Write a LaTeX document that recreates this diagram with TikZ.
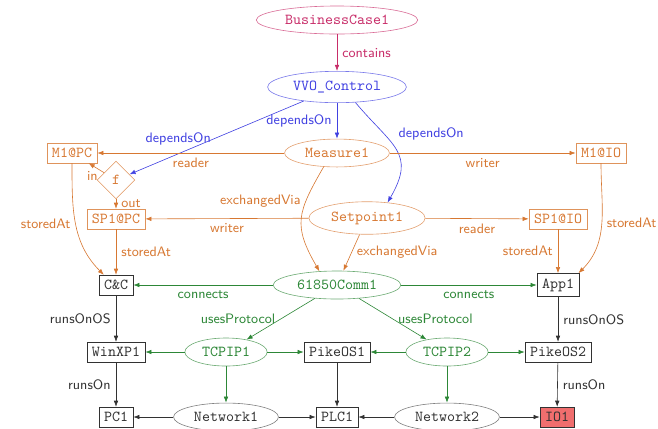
\documentclass[tikz,border=0pt]{standalone}
\usepackage{xcolor}
\usepackage{tikz}
\usetikzlibrary{shapes.geometric, arrows.meta}

\definecolor{bcase}{RGB}{200,45,105}
\definecolor{ctrl}{RGB}{65,65,225}
\definecolor{sig}{RGB}{215,120,50}
\definecolor{comm}{RGB}{45,135,55}
\definecolor{sysc}{RGB}{50,50,50}
\definecolor{iored}{RGB}{240,110,110}

\tikzset{
  ent/.style={ellipse, draw, font=\ttfamily},
  box/.style={rectangle, draw, font=\ttfamily},
  lbl/.style={font=\sffamily\small},
  link/.style={-{Latex[length=4pt,width=3pt]}},
}

\begin{document}
\begin{tikzpicture}[x=0.6562pt, y=-0.6562pt]
  \useasboundingbox (0,0) rectangle (658,428);
  % entities
  \node[ent, draw=bcase!70, text=bcase] (bc) at (337,20) {BusinessCase1};
  \node[ent, draw=ctrl!70, text=ctrl] (vvo) at (337,87) {VVO\_Control};
  \node[ent, draw=sig!70, text=sig] (meas) at (337,153) {Measure1};
  \node[ent, draw=sig!70, text=sig] (sp) at (367,218) {Setpoint1};
  \node[ent, draw=comm!70, text=comm] (comm) at (337,285) {61850Comm1};
  \node[box, draw=sig!80, text=sig] (m1pc) at (72,153) {M1@PC};
  \node[box, draw=sig!80, text=sig] (m1io) at (601,153) {M1@IO};
  \node[diamond, draw=sig!80, text=sig, font=\ttfamily] (f) at (116,180) {f};
  \node[box, draw=sig!80, text=sig] (sp1pc) at (116,219) {SP1@PC};
  \node[box, draw=sig!80, text=sig] (sp1io) at (558,219) {SP1@IO};
  \node[box, draw=sysc, text=sysc] (cc) at (116,285) {C\&C};
  \node[box, draw=sysc, text=sysc] (app) at (558,285) {App1};
  \node[box, draw=sysc, text=sysc] (winxp) at (116,352) {WinXP1};
  \node[ent, draw=comm!70, text=comm] (tcp1) at (226,352) {TCPIP1};
  \node[box, draw=sysc, text=sysc] (pike1) at (337,352) {PikeOS1};
  \node[ent, draw=comm!70, text=comm] (tcp2) at (447,352) {TCPIP2};
  \node[box, draw=sysc, text=sysc] (pike2) at (558,352) {PikeOS2};
  \node[box, draw=sysc, text=sysc] (pc) at (116,417) {PC1};
  \node[ent, draw=gray, text=sysc] (net1) at (226,417) {Network1};
  \node[box, draw=sysc, text=sysc] (plc) at (337,417) {PLC1};
  \node[ent, draw=gray, text=sysc] (net2) at (447,417) {Network2};
  \node[box, draw=sysc, fill=iored, text=sysc] (io) at (557,417) {IO1};

  % relations
  \draw[link, bcase] (bc) -- (vvo) node[lbl, midway, right] {contains};
  \draw[link, ctrl] (vvo) -- (meas) node[lbl, midway, left] {dependsOn};
  \draw[link, ctrl] (vvo) -- (f) node[lbl, pos=0.72, above, yshift=2pt] {dependsOn};
  \draw[link, ctrl] (vvo.-40) to[out=-50, in=60, looseness=1.4]
       node[lbl, pos=0.3, right, xshift=6pt] {dependsOn} (sp.37);
  \draw[link, sig] (meas) -- (m1pc) node[lbl, midway, below] {reader};
  \draw[link, sig] (meas) -- (m1io) node[lbl, midway, below] {writer};
  \draw[link, sig] (meas.-134) to[out=-120, in=120, looseness=1.3]
       node[lbl, pos=0.3, left] {exchangedVia} (comm.142);
  \draw[link, sig] (sp) -- (sp1pc) node[lbl, midway, below] {writer};
  \draw[link, sig] (sp) -- (sp1io) node[lbl, midway, below] {reader};
  \draw[link, sig] (sp) -- (comm) node[lbl, midway, right] {exchangedVia};
  \draw[link, sig] (f) -- (m1pc) node[lbl, pos=0.3, below left, inner sep=1pt] {in};
  \draw[link, sig] (f) -- (sp1pc) node[lbl, midway, right] {out};
  \draw[link, sig] (m1pc.south) to[out=-90, in=135]
       node[lbl, midway, left] {storedAt} (cc.140);
  \draw[link, sig] (sp1pc) -- (cc) node[lbl, midway, right] {storedAt};
  \draw[link, sig] (m1io.south) to[out=-90, in=45]
       node[lbl, midway, right] {storedAt} (app.30);
  \draw[link, sig] (sp1io) -- (app) node[lbl, midway, left] {storedAt};
  \draw[link, comm] (comm) -- (cc) node[lbl, midway, below] {connects};
  \draw[link, comm] (comm) -- (app) node[lbl, midway, below] {connects};
  \draw[link, comm] (comm) -- (tcp1) node[lbl, midway, left] {usesProtocol};
  \draw[link, comm] (comm) -- (tcp2) node[lbl, midway, right] {usesProtocol};
  \draw[link, comm] (tcp1) -- (winxp);
  \draw[link, comm] (tcp1) -- (pike1);
  \draw[link, comm] (tcp2) -- (pike1);
  \draw[link, comm] (tcp2) -- (pike2);
  \draw[link, comm] (tcp1) -- (net1);
  \draw[link, comm] (tcp2) -- (net2);
  \draw[link, sysc] (cc) -- (winxp) node[lbl, midway, left] {runsOnOS};
  \draw[link, sysc] (app) -- (pike2) node[lbl, midway, right] {runsOnOS};
  \draw[link, sysc] (winxp) -- (pc) node[lbl, midway, left] {runsOn};
  \draw[link, sysc] (pike1) -- (plc);
  \draw[link, sysc] (pike2) -- (io) node[lbl, midway, right] {runsOn};
  \draw[link, sysc] (net1) -- (pc);
  \draw[link, sysc] (net1) -- (plc);
  \draw[link, sysc] (net2) -- (plc);
  \draw[link, sysc] (net2) -- (io);
\end{tikzpicture}
\end{document}
